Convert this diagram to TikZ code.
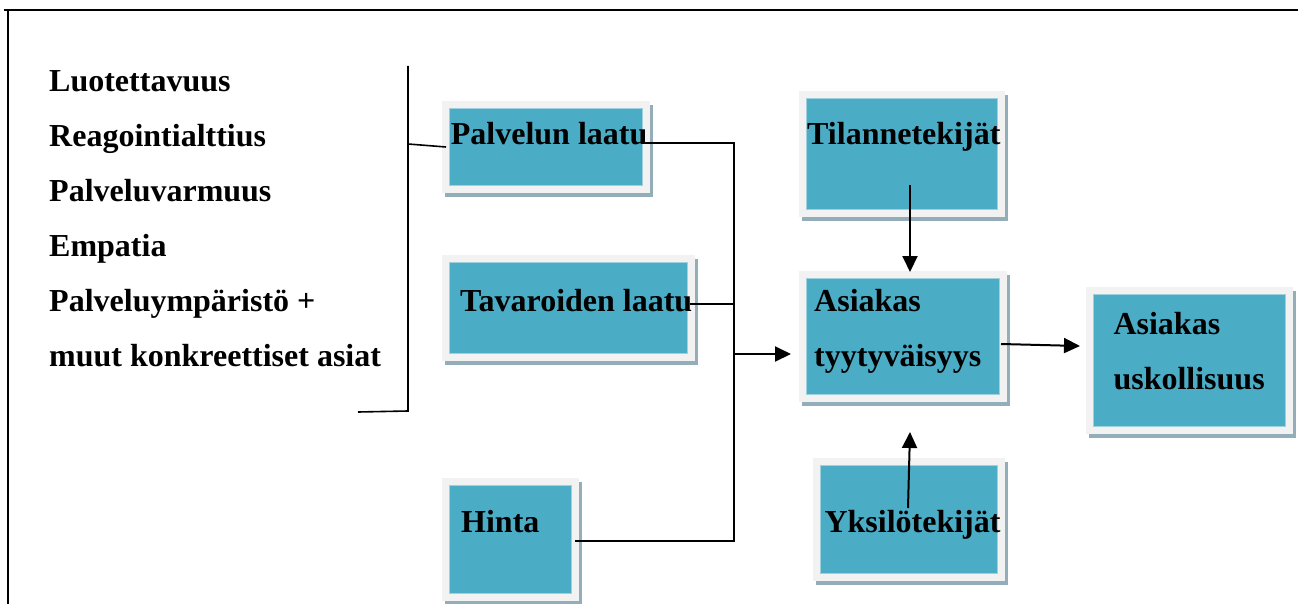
\documentclass[tikz,border=0pt]{standalone}
\usepackage{fontspec}
\setmainfont{Liberation Serif}
\usetikzlibrary{arrows.meta,shadows}
\definecolor{tealfill}{HTML}{4BACC6}
\definecolor{tealedge}{HTML}{9FD0DE}
\definecolor{framec}{HTML}{F2F2F2}
\definecolor{shadowc}{HTML}{93AEB8}
\begin{document}
\begin{tikzpicture}[x=1pt,y=-1pt,
  box/.style={draw=none, fill=framec, inner sep=0pt, outer sep=0pt, anchor=north west,
    drop shadow={shadow xshift=3pt, shadow yshift=-4pt, fill=shadowc, opacity=1},
    path picture={\fill[tealfill, draw=tealedge, line width=0.8pt]
      ([shift={(7.5pt,-7.5pt)}]path picture bounding box.north west) rectangle
      ([shift={(-7.5pt,7.5pt)}]path picture bounding box.south east);}},
  txt/.style={anchor=base west, inner sep=0pt, font=\fontsize{32}{38}\selectfont\bfseries},
  conn/.style={line width=2pt, black},
  arr/.style={conn, -{Triangle[length=16pt,width=15pt]}},
  brk/.style={line width=1.6pt, black}
]
\useasboundingbox (0,0) rectangle (1298,604);
% outer frame
\coordinate (fr1) at (4,10);
\coordinate (fr2) at (1298,10);
\coordinate (fr3) at (8,10);
\coordinate (fr4) at (8,604);
\draw[line width=2.4pt] (fr1) -- (fr2);
\draw[line width=2.4pt] (fr3) -- (fr4);

% left list
\node[txt] (l1) at (49,91.7) {Luotettavuus};
\node[txt] (l2) at (49,146.7) {Reagointialttius};
\node[txt] (l3) at (49,201.7) {Palveluvarmuus};
\node[txt] (l4) at (49,256.7) {Empatia};
\node[txt] (l5) at (49,311.7) {Palveluympäristö +};
\node[txt] (l6) at (49,366.7) {muut konkreettiset asiat};

% boxes
\node[box, minimum width=208pt, minimum height=92pt] (p1) at (442,101) {};
\node[box, minimum width=253pt, minimum height=106pt] (p2) at (442,255) {};
\node[box, minimum width=137pt, minimum height=123pt] (p3) at (442,478) {};
\node[box, minimum width=206pt, minimum height=126pt] (ti) at (799,91) {};
\node[box, minimum width=208pt, minimum height=131pt] (a1) at (799,271) {};
\node[box, minimum width=192pt, minimum height=123pt] (yk) at (813,458) {};
\node[box, minimum width=207pt, minimum height=147pt] (a2) at (1086,287) {};

% box texts
\node[txt] (tp1) at (450.7,145) {Palvelun laatu};
\node[txt] (tp2) at (460,311.7) {Tavaroiden laatu};
\node[txt] (tp3) at (461,532.3) {Hinta};
\node[txt] (tti) at (807,145) {Tilannetekijät};
\node[txt] (ta1a) at (814,311.7) {Asiakas};
\node[txt] (ta1b) at (814,366.7) {tyytyväisyys};
\node[txt] (tyk) at (824.3,532.3) {Yksilötekijät};
\node[txt] (ta2a) at (1113.3,334) {Asiakas};
\node[txt] (ta2b) at (1113.3,389) {uskollisuus};

% bracket
\coordinate (bt) at (408,66);
\coordinate (bb) at (408,411);
\coordinate (bl) at (358,412);
\coordinate (br) at (408,144);
\draw[brk] (bt) -- (bb) -- (bl);
\draw[brk] (br) -- ([xshift=4pt]p1.west);

% bus
\coordinate (busTop) at (734,143);
\coordinate (busP2) at (734,304);
\coordinate (busMid) at (734,354);
\coordinate (busBot) at (734,541);
\draw[conn] ([xshift=-5pt]p1.east |- busTop) -- (busTop) -- (busBot) -- ([xshift=-4pt]p3.east |- busBot);
\draw[conn] ([xshift=-5pt]p2.east |- busP2) -- (busP2);
\draw[arr] (busMid) -- ([xshift=-8pt]a1.west |- busMid);

% vertical arrows
\coordinate (ts) at (910,185);
\coordinate (te) at (910,272);
\draw[arr] (ts) -- (te);
\coordinate (ys) at (908,508);
\coordinate (ye) at (910,432);
\draw[arr] (ys) -- (ye);

% a1 -> a2
\coordinate (as) at (1001,344);
\coordinate (ae) at (1080,346);
\draw[arr] (as) -- (ae);
\end{tikzpicture}
\end{document}
